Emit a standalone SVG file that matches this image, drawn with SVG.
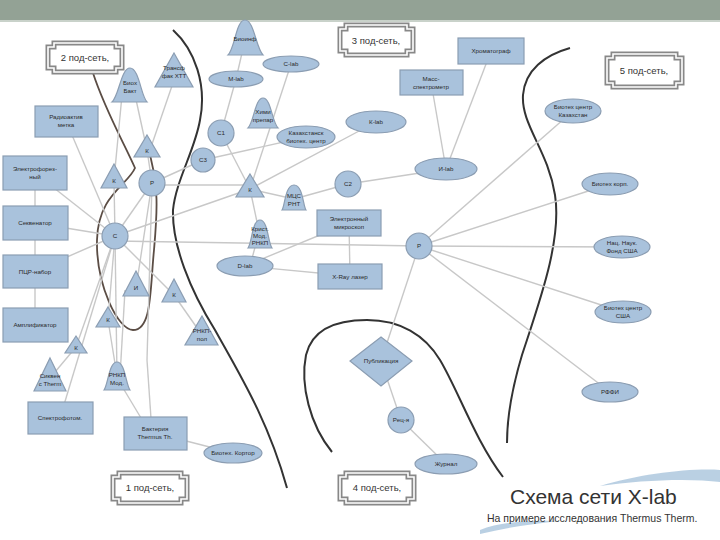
<svg xmlns="http://www.w3.org/2000/svg" width="720" height="540" viewBox="0 0 720 540">
<style>
.n{fill:#a9c2dc;stroke:#8b9db2;stroke-width:1.2}
.t{font-family:"Liberation Sans",Arial,sans-serif;font-size:6.2px;fill:#2a2a2a;text-anchor:middle}
.c line{stroke:#c8c8c8;stroke-width:1.4}
.div{fill:none;stroke:#333;stroke-width:2}
.lo{fill:none;stroke:#888;stroke-width:5}
.li{fill:none;stroke:#fff;stroke-width:1.6}
.lb{fill:#fff}
.lt{font-family:"Liberation Sans",Arial,sans-serif;font-size:9.5px;fill:#333;text-anchor:middle}
</style>
<rect width="720" height="540" fill="#fff"/>
<rect x="0" y="0" width="720" height="20" fill="#93a295"/>
<rect x="0" y="20" width="720" height="2" fill="#c9d2ca"/>

<!-- dividers -->
<g id="dividers">
<path class="div" d="M173,30 C195,50 207,85 200,120 C195,150 176,180 173,210 C172,245 190,290 215,330 C240,375 268,420 287,488"/>
<path class="div" style="stroke:#5b4d45;stroke-width:1.8" d="M93,73 C105,110 125,145 135,168 C128,185 98,195 97,240 C96,285 118,330 133,330 C152,330 150,290 154,250 C157,215 160,185 147,145"/>
<path class="div" d="M332,452 C310,425 300,385 306,355 C312,330 335,320 367,320 C400,320 425,335 440,360 C458,390 475,440 503,477"/>
<path class="div" d="M570,48 C545,55 525,70 523,95 C521,125 548,150 555,195 C562,240 540,300 522,355 C510,395 507,420 507,443"/>
</g>

<g id="connectors" class="c">
<line x1="35" y1="173" x2="35" y2="325"/>
<line x1="66" y1="121" x2="115" y2="236"/>
<line x1="35" y1="173" x2="115" y2="236"/>
<line x1="35" y1="223" x2="115" y2="236"/>
<line x1="35" y1="271" x2="115" y2="236"/>
<line x1="114" y1="180" x2="115" y2="236"/>
<line x1="152" y1="183" x2="115" y2="236"/>
<line x1="115" y1="236" x2="250" y2="189"/>
<line x1="115" y1="241" x2="419" y2="246"/>
<line x1="115" y1="236" x2="76" y2="347"/>
<line x1="76" y1="347" x2="50" y2="378"/>
<line x1="115" y1="236" x2="60" y2="418"/>
<line x1="115" y1="236" x2="108" y2="320"/>
<line x1="115" y1="236" x2="117" y2="376"/>
<line x1="108" y1="320" x2="117" y2="376"/>
<line x1="115" y1="236" x2="174" y2="295"/>
<line x1="174" y1="295" x2="202" y2="335"/>
<line x1="152" y1="183" x2="147" y2="150"/>
<line x1="152" y1="185" x2="250" y2="185"/>
<line x1="152" y1="183" x2="203" y2="160"/>
<line x1="152" y1="183" x2="136" y2="288"/>
<line x1="152" y1="183" x2="147" y2="360"/>
<line x1="147" y1="360" x2="152" y2="433"/>
<line x1="125" y1="290" x2="120" y2="376"/>
<line x1="117" y1="378" x2="150" y2="433"/>
<line x1="155" y1="433" x2="233" y2="453"/>
<line x1="122" y1="95" x2="114" y2="180"/>
<line x1="135" y1="95" x2="147" y2="150"/>
<line x1="174" y1="80" x2="150" y2="150"/>
<line x1="236" y1="79" x2="221" y2="133"/>
<line x1="245" y1="40" x2="236" y2="79"/>
<line x1="291" y1="64" x2="250" y2="189"/>
<line x1="221" y1="133" x2="250" y2="189"/>
<line x1="203" y1="160" x2="306" y2="137"/>
<line x1="250" y1="189" x2="376" y2="122"/>
<line x1="250" y1="189" x2="294" y2="199"/>
<line x1="250" y1="189" x2="260" y2="236"/>
<line x1="294" y1="199" x2="348" y2="184"/>
<line x1="348" y1="184" x2="446" y2="169"/>
<line x1="446" y1="169" x2="431" y2="82"/>
<line x1="446" y1="169" x2="491" y2="51"/>
<line x1="258" y1="236" x2="250" y2="266"/>
<line x1="245" y1="266" x2="349" y2="223"/>
<line x1="245" y1="266" x2="350" y2="276"/>
<line x1="349" y1="223" x2="350" y2="276"/>
<line x1="419" y1="246" x2="573" y2="111"/>
<line x1="419" y1="246" x2="610" y2="184"/>
<line x1="419" y1="246" x2="622" y2="247"/>
<line x1="419" y1="246" x2="623" y2="312"/>
<line x1="419" y1="246" x2="610" y2="392"/>
<line x1="419" y1="246" x2="381" y2="361"/>
<line x1="381" y1="361" x2="401" y2="420"/>
<line x1="401" y1="420" x2="446" y2="464"/>
</g>

<!-- subnet labels -->
<g id="label2"><path class="lb lo" d="M54,43H116V47H122V68H116V72H54V68H48V47H54Z"/><path class="li" d="M54,43H116V47H122V68H116V72H54V68H48V47H54Z"/><text class="lt" x="85" y="61">2 под-сеть,</text></g>
<g id="label3"><path class="lb lo" d="M346,25H407V29H413V51H407V55H346V51H340V29H346Z"/><path class="li" d="M346,25H407V29H413V51H407V55H346V51H340V29H346Z"/><text class="lt" x="376" y="44">3 под-сеть,</text></g>
<g id="label5"><path class="lb lo" d="M613,54H676V58H682V83H676V87H613V83H607V58H613Z"/><path class="li" d="M613,54H676V58H682V83H676V87H613V83H607V58H613Z"/><text class="lt" x="644" y="74">5 под-сеть,</text></g>
<g id="label1"><path class="lb lo" d="M119,473H181V477H187V499H181V503H119V499H113V477H119Z"/><path class="li" d="M119,473H181V477H187V499H181V503H119V499H113V477H119Z"/><text class="lt" x="150" y="491">1 под-сеть,</text></g>
<g id="label4"><path class="lb lo" d="M346,473H408V477H414V499H408V503H346V499H340V477H346Z"/><path class="li" d="M346,473H408V477H414V499H408V503H346V499H340V477H346Z"/><text class="lt" x="377" y="491">4 под-сеть,</text></g>

<!-- rectangles -->
<g id="metka"><rect class="n" x="35" y="106" width="63" height="31"/><text class="t" x="66" y="119">Радиоактив</text><text class="t" x="66" y="127">метка</text></g>
<g id="elec"><rect class="n" x="3" y="156" width="64" height="34"/><text class="t" x="35" y="171">Электрофорез-</text><text class="t" x="35" y="179">ный</text></g>
<g id="seq"><rect class="n" x="3" y="206" width="65" height="34"/><text class="t" x="35" y="225">Секвенатор</text></g>
<g id="pcr"><rect class="n" x="3" y="255" width="65" height="33"/><text class="t" x="35" y="274">ПЦР-набор</text></g>
<g id="amp"><rect class="n" x="3" y="308" width="65" height="34"/><text class="t" x="35" y="327">Амплификатор</text></g>
<g id="spec"><rect class="n" x="28" y="402" width="65" height="32"/><text class="t" x="60" y="420">Спектрофотом.</text></g>
<g id="bact"><rect class="n" x="124" y="417" width="63" height="33"/><text class="t" x="155" y="431">Бактерия</text><text class="t" x="155" y="439">Thermus Th.</text></g>
<g id="masspec"><rect class="n" x="400" y="70" width="63" height="25"/><text class="t" x="431" y="81">Масс-</text><text class="t" x="431" y="89">спектрометр</text></g>
<g id="chrom"><rect class="n" x="458" y="38" width="66" height="26"/><text class="t" x="491" y="53">Хроматограф</text></g>
<g id="em"><rect class="n" x="317" y="210" width="64" height="26"/><text class="t" x="349" y="221">Электронный</text><text class="t" x="349" y="229">микроскоп</text></g>
<g id="xray"><rect class="n" x="318" y="264" width="64" height="25"/><text class="t" x="350" y="279">X-Ray лазер</text></g>

<!-- ellipses -->
<g id="clab"><ellipse class="n" cx="291" cy="64" rx="28" ry="8"/><text class="t" x="291" y="66">C-lab</text></g>
<g id="mlab"><ellipse class="n" cx="236" cy="79" rx="27" ry="8"/><text class="t" x="236" y="81">М-lab</text></g>
<g id="kaz"><ellipse class="n" cx="306" cy="137" rx="29" ry="11"/><text class="t" x="306" y="135">Казахстанск</text><text class="t" x="306" y="143">биотех. центр</text></g>
<g id="klab"><ellipse class="n" cx="376" cy="122" rx="30" ry="11"/><text class="t" x="376" y="124">К-lab</text></g>
<g id="ilab"><ellipse class="n" cx="446" cy="169" rx="31" ry="11"/><text class="t" x="446" y="171">И-lab</text></g>
<g id="dlab"><ellipse class="n" cx="245" cy="266" rx="28" ry="10"/><text class="t" x="245" y="268">D-lab</text></g>
<g id="bck"><ellipse class="n" cx="573" cy="111" rx="28" ry="12"/><text class="t" x="573" y="109">Биотех центр</text><text class="t" x="573" y="117">Казахстан</text></g>
<g id="bcorp"><ellipse class="n" cx="610" cy="184" rx="28" ry="11"/><text class="t" x="610" y="186">Биотех корп.</text></g>
<g id="nsf"><ellipse class="n" cx="622" cy="247" rx="28" ry="11"/><text class="t" x="622" y="245">Нац. Наук.</text><text class="t" x="622" y="253">Фонд США</text></g>
<g id="bcusa"><ellipse class="n" cx="623" cy="312" rx="28" ry="11"/><text class="t" x="623" y="310">Биотех центр</text><text class="t" x="623" y="318">США</text></g>
<g id="rffi"><ellipse class="n" cx="610" cy="392" rx="28" ry="10"/><text class="t" x="610" y="394">РФФИ</text></g>
<g id="journ"><ellipse class="n" cx="446" cy="464" rx="31" ry="10"/><text class="t" x="446" y="466">Журнал</text></g>
<g id="kortor"><ellipse class="n" cx="233" cy="453" rx="29" ry="10"/><text class="t" x="233" y="455">Биотех. Кортор</text></g>

<!-- circles -->
<g id="p1"><circle class="n" cx="152" cy="183" r="13"/><text class="t" x="152" y="185">Р</text></g>
<g id="c"><circle class="n" cx="115" cy="236" r="13"/><text class="t" x="115" y="238">С</text></g>
<g id="c1"><circle class="n" cx="221" cy="133" r="13"/><text class="t" x="221" y="135">С1</text></g>
<g id="c3"><circle class="n" cx="203" cy="160" r="12"/><text class="t" x="203" y="162">С3</text></g>
<g id="c2"><circle class="n" cx="348" cy="184" r="13"/><text class="t" x="348" y="186">С2</text></g>
<g id="p2"><circle class="n" cx="419" cy="246" r="13"/><text class="t" x="419" y="248">Р</text></g>
<g id="rec"><circle class="n" cx="401" cy="420" r="13"/><text class="t" x="401" y="422">Рец-я</text></g>

<!-- diamond -->
<g id="publ"><polygon class="n" points="381,337 412,361 381,386 350,361"/><text class="t" x="381" y="363">Публикация</text></g>

<!-- triangles -->
<g id="k1"><polygon class="n" points="147,135 160,157 134,157"/><text class="t" x="147" y="153">К</text></g>
<g id="k2"><polygon class="n" points="114,164 127,188 101,188"/><text class="t" x="114" y="183">К</text></g>
<g id="k3"><polygon class="n" points="250,174 264,197 236,197"/><text class="t" x="250" y="192">К</text></g>
<g id="i"><polygon class="n" points="136,271 149,296 123,296"/><text class="t" x="136" y="290">И</text></g>
<g id="k4"><polygon class="n" points="174,279 186,302 162,302"/><text class="t" x="174" y="297">К</text></g>
<g id="k5"><polygon class="n" points="108,307 120,327 96,327"/><text class="t" x="108" y="322">К</text></g>
<g id="k6"><polygon class="n" points="76,336 87,353 65,353"/><text class="t" x="76" y="350">К</text></g>
<g id="transf"><polygon class="n" points="174,53 193,87 155,87"/><text class="t" x="174" y="70">Трансф</text><text class="t" x="174" y="78">фак ХТТ</text></g>
<g id="sikven"><polygon class="n" points="50,358 66,391 34,391"/><text class="t" x="50" y="378">Сиквен</text><text class="t" x="50" y="386">с Therm</text></g>
<g id="rnkppol"><polygon class="n" points="202,316 218,345 185,345"/><text class="t" x="202" y="333">РНКП-</text><text class="t" x="202" y="341">пол</text></g>

<!-- bells -->
<g id="biokh"><path class="n" d="M112,102 C119,96 121,68 130,68 C139,68 141,96 147,102 Z"/><text class="t" x="130" y="85">Биох</text><text class="t" x="130" y="93">Бакт</text></g>
<g id="bioinf"><path class="n" d="M228,55 C235,48 236,20 245,20 C254,20 256,48 263,55 Z"/><text class="t" x="245" y="41">Биоинф</text></g>
<g id="khimi"><path class="n" d="M248,128 C254,122 255,98 263,98 C271,98 272,122 278,128 Z"/><text class="t" x="263" y="114">Хими</text><text class="t" x="263" y="122">препар</text></g>
<g id="mcs"><path class="n" d="M282,210 C285,206 285,185 294,185 C303,185 303,206 306,210 Z"/><text class="t" x="294" y="198">МЦС</text><text class="t" x="294" y="206">РНТ</text></g>
<g id="krist"><path class="n" d="M248,248 C252,243 252,220 260,220 C268,220 268,243 272,248 Z"/><text class="t" x="260" y="231">Крист.</text><text class="t" x="260" y="238">Мод.</text><text class="t" x="260" y="245">РНКП</text></g>
<g id="rnkpmod"><path class="n" d="M104,390 C108,385 109,362 117,362 C125,362 126,385 130,390 Z"/><text class="t" x="117" y="377">РНКП</text><text class="t" x="117" y="385">Мод.</text></g>

<!-- title -->
<g id="title">
<path d="M600,486 C640,474 690,468 720,470 L720,482 C690,478 640,480 600,486 Z" fill="#a9c4dc" opacity="0.8"/>
<path d="M480,530 C500,522 530,520 560,521 C530,524 505,528 480,534 Z" fill="#a9c4dc" opacity="0.8"/>
<text x="510" y="504" font-family="'Liberation Sans',Arial,sans-serif" font-size="21" fill="#333">Схема сети X-lab</text>
<text x="487" y="522" font-family="'Liberation Sans',Arial,sans-serif" font-size="10.5" fill="#333">На примере исследования Thermus Therm.</text>
</g>
</svg>
